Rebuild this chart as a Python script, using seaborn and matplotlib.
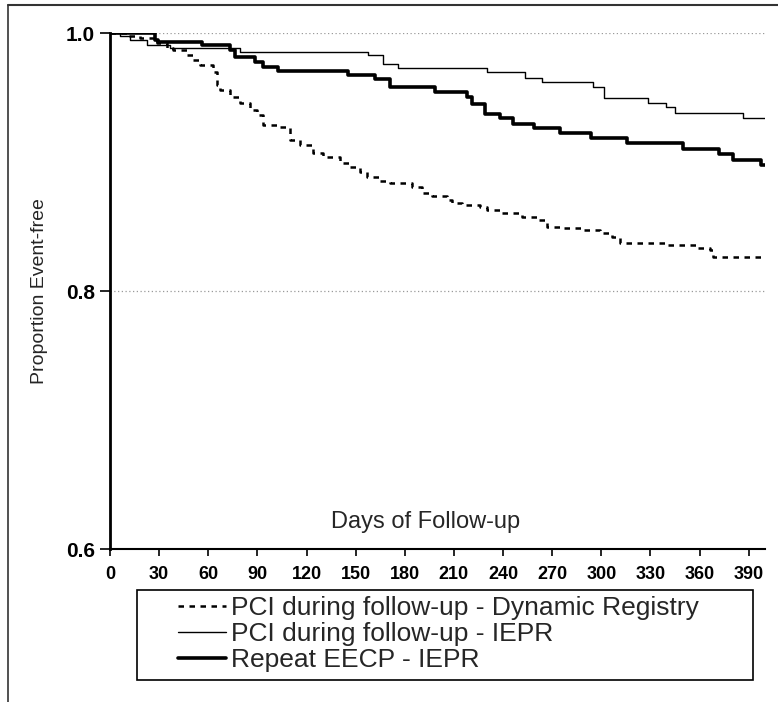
import matplotlib
matplotlib.use("Agg")
import matplotlib.pyplot as plt
from matplotlib.lines import Line2D
from matplotlib.patches import Rectangle
import seaborn as sns
import pandas as pd

# Kaplan-Meier step curves (day, proportion event-free)
reg_days = [0, 10.4, 18.3, 28.7, 34.8, 38.5, 47.0, 50.7, 55.0, 62.9, 65.4, 67.2, 73.3, 79.4,
            85.5, 89.8, 93.5, 102.0, 110.0, 116.1, 124.0, 130.1, 140.5, 146.6, 152.7, 157.0,
            164.9, 171.0, 184.5, 190.6, 196.7, 205.9, 208.9, 215.0, 226.0, 230.3, 238.2,
            251.7, 260.8, 267.0, 274.9, 288.9, 299.3, 306.7, 311.5, 340.3, 358.6, 366.5,
            368.4, 400]
reg_surv = [1.0, 0.9977, 0.9961, 0.9922, 0.9884, 0.9868, 0.9829, 0.9791, 0.9752, 0.9698,
            0.9597, 0.9558, 0.9504, 0.9457, 0.9403, 0.9364, 0.9287, 0.9271, 0.9171, 0.9132,
            0.9070, 0.9039, 0.8992, 0.8961, 0.8922, 0.8884, 0.8853, 0.8837, 0.8806, 0.8760,
            0.8736, 0.8705, 0.8682, 0.8667, 0.8651, 0.8628, 0.8605, 0.8574, 0.8550, 0.8496,
            0.8488, 0.8473, 0.8450, 0.8419, 0.8372, 0.8357, 0.8333, 0.8318, 0.8264, 0.8264]

iepr_days = [0, 6, 12, 22.6, 36.7, 79.4, 157.6, 166.8, 176, 230, 253.5, 264, 295, 301.8,
             328.6, 339.6, 345, 386.7, 401]
iepr_surv = [1.0, 0.998, 0.9946, 0.9907, 0.9886, 0.9855, 0.9829, 0.976, 0.9726, 0.970,
             0.9649, 0.9618, 0.9579, 0.9498, 0.946, 0.9424, 0.9382, 0.9343, 0.9343]

eecp_days = [0, 27.5, 29.3, 56, 73.3, 76.4, 88.6, 93.5, 102.6, 145.4, 161.9, 171, 198.5,
             218, 221, 229, 238, 246, 259, 275, 294, 316, 350, 372, 380.6, 397.7, 402]
eecp_surv = [1.0, 0.9946, 0.9933, 0.9907, 0.9868, 0.9816, 0.9778, 0.9739, 0.9708, 0.9674,
             0.9641, 0.9579, 0.9545, 0.9506, 0.945, 0.9372, 0.9339, 0.9295, 0.9266, 0.9222,
             0.9188, 0.9145, 0.9101, 0.906, 0.9016, 0.8977, 0.8977]

labels = ["PCI during follow-up - Dynamic Registry",
          "PCI during follow-up - IEPR",
          "Repeat EECP - IEPR"]
x_ticks = list(range(0, 391, 30))
y_ticks = [0.6, 0.8, 1.0]

sns.set_style("ticks")
plt.rcParams["font.family"] = ["Liberation Sans", "DejaVu Sans"]

fig = plt.figure(figsize=(7.78, 7.02), dpi=100)
ax = fig.add_axes([0.1414, 0.2179, 0.8419, 0.7350])

styles = [dict(lw=1.8, dashes=(2.2, 2.2)), dict(lw=1.0), dict(lw=2.6)]
curves = [(reg_days, reg_surv), (iepr_days, iepr_surv), (eecp_days, eecp_surv)]
for (d, s), st in zip(curves, styles):
    df = pd.DataFrame({"day": d, "surv": s})
    sns.lineplot(data=df, x="day", y="surv", drawstyle="steps-post", color="black",
                 estimator=None, sort=False, ax=ax, **st)

for yv in [1.0, 0.8]:
    ax.axhline(yv, color="#9a9a9a", lw=0.9, ls=(0, (1, 2)), zorder=0)

ax.set_xlim(0, 400)
ax.set_ylim(0.6, 1.0)
ax.set_xticks(x_ticks)
ax.set_yticks(y_ticks)
ax.set_yticklabels([f"{v:.1f}" for v in y_ticks], fontsize=15, fontweight="bold")
ax.set_xticklabels([str(v) for v in x_ticks], fontsize=13, fontweight="bold")
ax.tick_params(axis="x", length=5, width=1.2, pad=7, colors="black")
ax.tick_params(axis="y", length=7, width=1.2, pad=4, colors="black")
sns.despine(ax=ax)
ax.spines["left"].set_linewidth(2)
ax.spines["bottom"].set_linewidth(1.5)
ax.spines["left"].set_color("black")
ax.spines["bottom"].set_color("black")

ax.set_xlabel("")
ax.set_ylabel("Proportion Event-free", fontsize=14)
ax.yaxis.set_label_coords(-0.094, 0.5)
ax.text(0.482, 0.041, "Days of Follow-up", transform=ax.transAxes, ha="center",
        va="baseline", fontsize=17)

# legend box and entries
fig.add_artist(Rectangle((0.1761, 0.0313), 0.7918, 0.1282, transform=fig.transFigure,
                         fill=False, edgecolor="black", lw=1.2))
handles = [Line2D([], [], color="black", **st) for st in styles]
fig.legend(handles, labels, loc="upper left", bbox_to_anchor=(0.2288, 0.1510),
           frameon=False, fontsize=19, handlelength=1.8, handletextpad=0.2,
           labelspacing=0.08, borderpad=0, borderaxespad=0)

# outer frame of the scanned figure
fig.add_artist(Line2D([0.0103, 0.0103], [0, 0.9929], transform=fig.transFigure,
                      color="#333333", lw=1.2))
fig.add_artist(Line2D([0.0103, 1.0], [0.9929, 0.9929], transform=fig.transFigure,
                      color="#333333", lw=1.5))

fig.savefig("out.png", dpi=100)
